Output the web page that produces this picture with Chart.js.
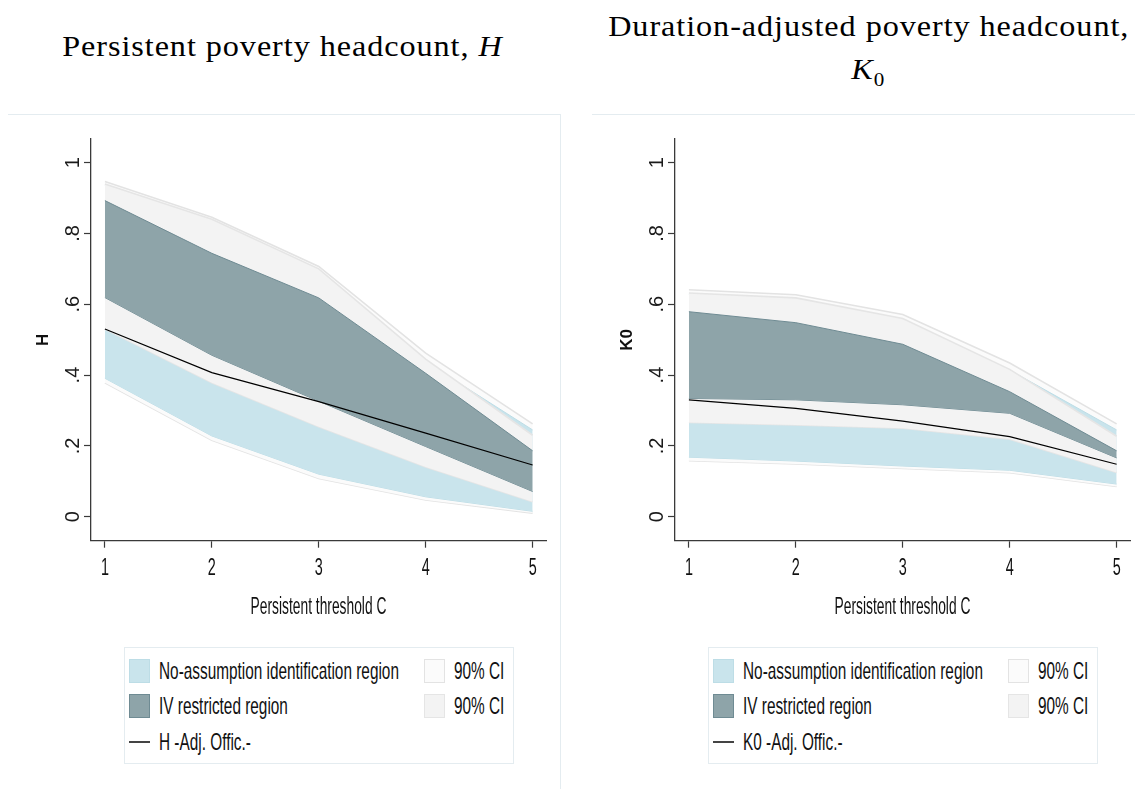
<!DOCTYPE html>
<html>
<head>
<meta charset="utf-8">
<script src="https://cdn.jsdelivr.net/npm/chart.js@4.4.1/dist/chart.umd.min.js"></script>
<style>
  html, body { margin: 0; padding: 0; background: #fff; }
  body { width: 1135px; height: 789px; position: relative; overflow: hidden;
         font-family: "Liberation Sans", Arial, sans-serif; color: #111; }
  .title { position: absolute; font-family: "Liberation Serif", "Times New Roman", serif;
           font-size: 29px; color: #000; text-align: center; white-space: nowrap; }
  .title span.t { display: inline-block; transform: scaleX(1.11); letter-spacing: 0.85px; }
  .frame { position: absolute; border-top: 1px solid #e4ecf0; }
  .box { position: absolute; }
  .legend { position: absolute; border: 1px solid #e4ecf0; background: #fff; box-sizing: border-box; }
  .legend .sw { position: absolute; width: 21px; height: 24px; box-sizing: border-box; border: 1px solid; }
  .legend .ln { position: absolute; width: 21px; height: 0; border-top: 2px solid #444; }
  .legend .tx { position: absolute; font-size: 24px; line-height: 24px; white-space: nowrap;
                transform: scaleX(0.64); transform-origin: 0 50%; color: #111; }
</style>
</head>
<body>
<div class="title" style="left:0; width:565px; top:28px; line-height:36px;">
  <span class="t">Persistent poverty headcount, <i>H</i></span>
</div>
<div class="title" style="left:602px; width:533px; top:5px; line-height:43px;">
  <span class="t">Duration-adjusted poverty headcount,</span><br>
  <span class="t"><i>K</i><sub style="font-size:19px;">0</sub></span>
</div>

<div class="frame" style="left:8px; top:114px; width:552px; height:700px; border-right:1px solid #e4ecf0;"></div>
<div class="frame" style="left:592px; top:114px; width:600px; height:700px;"></div>

<div class="box" style="left:8px; top:115px; width:552px; height:674px;"><canvas id="chartH"></canvas></div>
<div class="box" style="left:592px; top:115px; width:543px; height:674px;"><canvas id="chartK0"></canvas></div>

<div class="legend" id="legendH" style="left:124px; top:647px; width:390px; height:117px;"></div>
<div class="legend" id="legendK0" style="left:708px; top:647px; width:390px; height:117px;"></div>

<script>
// Persistent threshold C on the horizontal axis
const thresholds = [1, 2, 3, 4, 5];
const xTickLabels = ['1', '2', '3', '4', '5'];
const yTickValues = [0, 0.2, 0.4, 0.6, 0.8, 1];
const yTickLabels = ['0', '.2', '.4', '.6', '.8', '1'];

// Persistent poverty headcount H
const hNoAssumpCiUpper = [0.947, 0.846, 0.707, 0.462, 0.262];
const hNoAssumpUpper   = [0.935, 0.835, 0.695, 0.437, 0.245];
const hIvCiUpper       = [0.940, 0.840, 0.700, 0.445, 0.230];
const hIvUpper         = [0.893, 0.744, 0.618, 0.405, 0.186];
const hIvLower         = [0.619, 0.456, 0.326, 0.198, 0.071];
const hIvCiLower       = [0.530, 0.378, 0.254, 0.140, 0.042];
const hNoAssumpLower   = [0.391, 0.228, 0.120, 0.056, 0.015];
const hNoAssumpCiLower = [0.378, 0.216, 0.108, 0.047, 0.010];
const hAdjOfficial     = [0.530, 0.407, 0.325, 0.236, 0.146];

// Duration-adjusted poverty headcount K0
const k0NoAssumpCiUpper = [0.641, 0.627, 0.571, 0.434, 0.262];
const k0NoAssumpUpper   = [0.628, 0.614, 0.555, 0.414, 0.245];
const k0IvCiUpper       = [0.632, 0.618, 0.560, 0.416, 0.227];
const k0IvUpper         = [0.579, 0.548, 0.487, 0.353, 0.186];
const k0IvLower         = [0.334, 0.330, 0.316, 0.292, 0.166];
const k0IvCiLower       = [0.266, 0.259, 0.250, 0.219, 0.125];
const k0NoAssumpLower   = [0.168, 0.157, 0.143, 0.131, 0.092];
const k0NoAssumpCiLower = [0.158, 0.149, 0.136, 0.124, 0.085];
const k0AdjOfficial     = [0.330, 0.306, 0.270, 0.226, 0.148];

const FONT = "'Liberation Sans', Arial, sans-serif";
const AXIS = '#3a3a3a';
const STYLE = {
  na:   { fill: '#c9e4ec', border: '#bddde6', width: 1 },
  naCi: { fill: '#fbfbfb', border: '#e3e3e3', width: 1.6 },
  iv:   { fill: '#8ea4a9', border: '#6f8b93', width: 1 },
  ivCi: { fill: '#f3f3f3', border: '#e5e5e5', width: 1.6 }
};

const pts = arr => thresholds.map((x, i) => ({ x, y: arr[i] }));

function upperSet(label, arr, st, lowerIndex) {
  return { label, data: pts(arr), borderColor: st.border, borderWidth: st.width,
           backgroundColor: st.fill, pointRadius: 0, tension: 0,
           fill: { target: lowerIndex, above: st.fill, below: st.fill }, legendStyle: st };
}
function lowerSet(arr, st) {
  return { label: '', data: pts(arr), borderColor: st.border, borderWidth: st.width,
           pointRadius: 0, tension: 0, fill: false };
}

// Index 0 is drawn last (on top); the outer no-assumption interval sits at the back.
function buildDatasets(lineLabel, s) {
  return [
    { label: lineLabel, data: pts(s.line), borderColor: '#000', borderWidth: 1.2,
      pointRadius: 0, tension: 0, fill: false, isLine: true },
    upperSet('IV restricted region', s.ivU, STYLE.iv, 2),
    lowerSet(s.ivL, STYLE.iv),
    upperSet('90% CI', s.ivCiU, STYLE.ivCi, 4),
    lowerSet(s.ivCiL, STYLE.ivCi),
    upperSet('No-assumption identification region', s.naU, STYLE.na, 6),
    lowerSet(s.naL, STYLE.na),
    upperSet('90% CI', s.naCiU, STYLE.naCi, 8),
    lowerSet(s.naCiL, STYLE.naCi)
  ];
}
// legend reading order: two columns, rows filled left to right
const legendOrder = [5, 7, 1, 3, 0];

// condensed text for the horizontal axis labels and title
const condensedXText = {
  id: 'condensedXText',
  beforeDraw(chart, args, opts) {
    const scale = chart.scales.x;
    if (!scale || scale.$condensed) return;
    scale.$condensed = true;
    const factor = opts.factor || 1;
    ['drawLabels', 'drawTitle'].forEach(name => {
      const base = scale[name].bind(scale);
      scale[name] = function (...a) {
        const ctx = this.ctx;
        const fill = ctx.fillText;
        ctx.fillText = function (t, x, y) {
          this.save();
          this.translate(x, y);
          this.scale(factor, 1);
          fill.call(this, t, 0, 0);
          this.restore();
        };
        try { return base(...a); } finally { ctx.fillText = fill; }
      };
    });
  }
};

function makeChart(id, yTitle, datasets, rightPad) {
  return new Chart(document.getElementById(id), {
    type: 'line',
    data: { datasets },
    plugins: [condensedXText],
    options: {
      responsive: true, maintainAspectRatio: false, animation: false,
      layout: { padding: { left: 0, right: rightPad, top: 24, bottom: 128.3 } },
      plugins: { legend: { display: false }, tooltip: { enabled: false },
                 condensedXText: { factor: 0.6 } },
      scales: {
        x: {
          type: 'linear', min: 0.87, max: 5.125,
          afterBuildTicks: s => { s.ticks = thresholds.map(v => ({ value: v })); },
          afterFit: s => { s.height = 120; },
          ticks: { callback: (v, i) => xTickLabels[i], maxRotation: 0, autoSkip: false,
                   padding: 6, font: { family: FONT, size: 24 }, color: '#111' },
          grid: { drawOnChartArea: false, drawTicks: true, tickLength: 7, color: AXIS, tickWidth: 1.2 },
          border: { display: true, color: AXIS, width: 1.3 },
          title: { display: true, text: 'Persistent threshold C', color: '#111',
                   font: { family: FONT, size: 23 }, padding: { top: 0, bottom: 39 } }
        },
        y: {
          type: 'linear', min: -0.068, max: 1.067,
          afterBuildTicks: s => { s.ticks = yTickValues.map(v => ({ value: v })); },
          afterFit: s => { s.width = 83; },
          ticks: { callback: (v, i) => yTickLabels[i], minRotation: 90, maxRotation: 90,
                   crossAlign: 'center', padding: 2.5, autoSkip: false,
                   font: { family: FONT, size: 20 }, color: '#1a1a1a' },
          grid: { drawOnChartArea: false, drawTicks: true, tickLength: 7, color: AXIS, tickWidth: 1.2 },
          border: { display: true, color: AXIS, width: 1.3 },
          title: { display: true, text: yTitle, color: '#111',
                   font: { family: FONT, size: 17, weight: 'bold' }, padding: { top: 25, bottom: 0 } }
        }
      }
    }
  });
}

function buildLegend(el, chart) {
  const rows = [671, 706, 742].map(c => c - 647 - 1);
  legendOrder.forEach((di, k) => {
    const ds = chart.data.datasets[di];
    const col = k % 2, row = Math.floor(k / 2);
    const sx = col === 0 ? 4 : 299, tx = col === 0 ? 34 : 329;
    const cy = rows[row];
    if (ds.isLine) {
      const l = document.createElement('div');
      l.className = 'ln';
      l.style.left = sx + 'px'; l.style.top = (cy - 1) + 'px';
      el.appendChild(l);
    } else {
      const s = document.createElement('div');
      s.className = 'sw';
      s.style.left = sx + 'px'; s.style.top = (cy - 12) + 'px';
      s.style.background = ds.legendStyle.fill;
      s.style.borderColor = ds.legendStyle.border;
      el.appendChild(s);
    }
    const t = document.createElement('div');
    t.className = 'tx';
    t.textContent = ds.label;
    t.style.left = tx + 'px'; t.style.top = (cy - 12) + 'px';
    el.appendChild(t);
  });
}

const chartH = makeChart('chartH', 'H', buildDatasets('H -Adj. Offic.-', {
  line: hAdjOfficial, ivU: hIvUpper, ivL: hIvLower, ivCiU: hIvCiUpper, ivCiL: hIvCiLower,
  naU: hNoAssumpUpper, naL: hNoAssumpLower, naCiU: hNoAssumpCiUpper, naCiL: hNoAssumpCiLower
}), 14);

const chartK0 = makeChart('chartK0', 'K0', buildDatasets('K0 -Adj. Offic.-', {
  line: k0AdjOfficial, ivU: k0IvUpper, ivL: k0IvLower, ivCiU: k0IvCiUpper, ivCiL: k0IvCiLower,
  naU: k0NoAssumpUpper, naL: k0NoAssumpLower, naCiU: k0NoAssumpCiUpper, naCiL: k0NoAssumpCiLower
}), 5);

buildLegend(document.getElementById('legendH'), chartH);
buildLegend(document.getElementById('legendK0'), chartK0);
</script>
</body>
</html>
